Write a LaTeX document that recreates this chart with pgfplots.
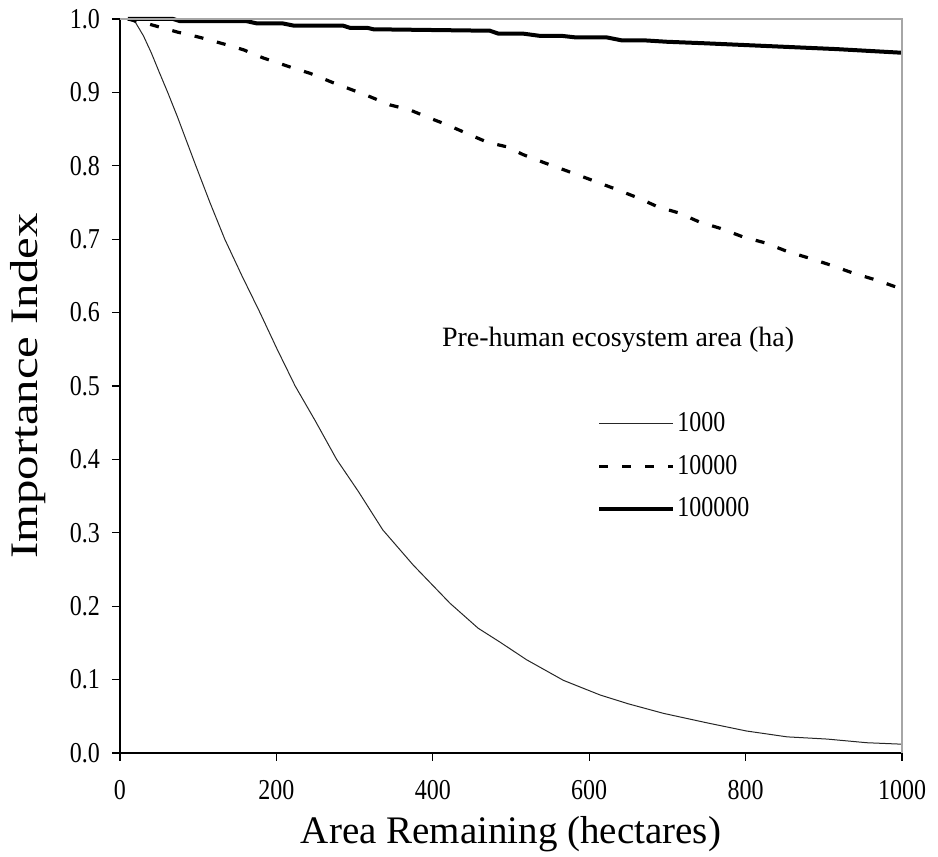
\documentclass[border=0pt]{standalone}
\usepackage{fontspec}
\setmainfont{Liberation Serif}
\usepackage{pgfplots}
\pgfplotsset{compat=1.18}
\usetikzlibrary{calc}

\begin{document}
\begin{tikzpicture}
\begin{axis}[
    scale only axis,
    width=391pt, height=367pt,
    xmin=0, xmax=1000, ymin=0, ymax=1,
    axis x line*=bottom, axis y line*=left,
    axis line style={black, line width=0.8pt},
    xtick={0,200,400,600,800,1000},
    ytick={0,0.1,0.2,0.3,0.4,0.5,0.6,0.7,0.8,0.9,1.0},
    tick align=outside, major tick length=4pt,
    tick style={black, line width=0.6pt},
    /pgf/number format/assume math mode=true,
    /pgf/number format/1000 sep={},
    xticklabel={\scalebox{1}[1.2]{\pgfmathprintnumber{\tick}}},
    yticklabel={\scalebox{1}[1.2]{\pgfmathprintnumber[fixed,fixed zerofill,precision=1]{\tick}}},
    ticklabel style={font=\fontsize{12}{14}\selectfont},
    xticklabel style={yshift=-6pt},
    yticklabel style={xshift=-2.5pt},
    xlabel={Area Remaining (hectares)},
    ylabel={\scalebox{1.25}[1]{Importance Index}},
    xlabel style={font=\fontsize{19.5}{22}\selectfont, at={(axis description cs:0.5,0)}, anchor=center, yshift=-40.5pt},
    ylabel style={font=\fontsize{19.5}{22}\selectfont, at={(axis description cs:0,0.5)}, anchor=center, yshift=46pt},
    clip=false,
    legend style={at={(rel axis cs:0.61,0.467)}, anchor=north west, draw=none, fill=none,
        font=\fontsize{12}{14}\selectfont, row sep=8.2pt, inner sep=0pt,
        nodes={inner sep=1pt}},
    legend cell align=left,
    legend image code/.code={\draw[#1] (0pt,0pt) -- (37pt,0pt);},
]
\addplot[black!85, line width=0.5pt] coordinates {
(10,1.000)(20,0.995)(30,0.977)(40,0.954)(50,0.928)(61,0.900)(73,0.868)(85,0.834)
(97,0.800)(115,0.750)(134,0.700)(156,0.650)(179,0.600)(201,0.550)(224,0.500)
(250,0.452)(277,0.400)(305,0.356)(336,0.304)(375,0.256)(422,0.204)(458,0.170)
(486,0.151)(520,0.127)(567,0.099)(614,0.079)(650,0.067)(695,0.054)(751,0.041)
(801,0.030)(853,0.022)(904,0.019)(955,0.014)(1000,0.012)
};
\addlegendentry{\scalebox{1}[1.2]{1000}}
\addplot[black, line width=1.6pt, dash pattern=on 4.5pt off 7pt] coordinates {
(10,1.000)(34,0.994)(74,0.982)(102,0.975)(136,0.965)(158,0.958)(183,0.947)(222,0.933)
(243,0.926)(273,0.913)(298,0.903)(320,0.894)(345,0.883)(371,0.876)(396,0.865)
(418,0.856)(448,0.842)(470,0.832)(494,0.826)(516,0.815)(543,0.804)(569,0.794)
(597,0.783)(612,0.777)(637,0.767)(663,0.756)(688,0.744)(714,0.736)(742,0.723)
(767,0.715)(797,0.703)(825,0.695)(854,0.683)(882,0.674)(908,0.665)(937,0.654)
(968,0.644)(1000,0.632)
};
\addlegendentry{\scalebox{1}[1.2]{10000}}
\addplot[black, line width=2pt] coordinates {
(10,1.000)(68,1.000)(77,0.997)(162,0.997)(175,0.994)(208,0.994)(222,0.991)(285,0.991)
(294,0.988)(316,0.988)(324,0.986)(473,0.984)(484,0.980)(516,0.980)(537,0.977)
(565,0.977)(582,0.975)(622,0.975)(641,0.971)(669,0.971)(699,0.969)(746,0.967)
(831,0.963)(916,0.959)(1000,0.954)
};
\addlegendentry{\scalebox{1}[1.2]{100000}}
\draw[gray!70, line width=0.8pt] (rel axis cs:0,1) -- (rel axis cs:1,1) -- (rel axis cs:1,0);
\node[font=\fontsize{14}{16}\selectfont, anchor=center] at (rel axis cs:0.637,0.5627)
    {Pre-human ecosystem area (ha)};
\end{axis}
\pgfresetboundingbox
\path ($(current axis.south west)+(-60pt,-52pt)$) rectangle ($(current axis.north east)+(18pt,9.5pt)$);
\end{tikzpicture}
\end{document}
